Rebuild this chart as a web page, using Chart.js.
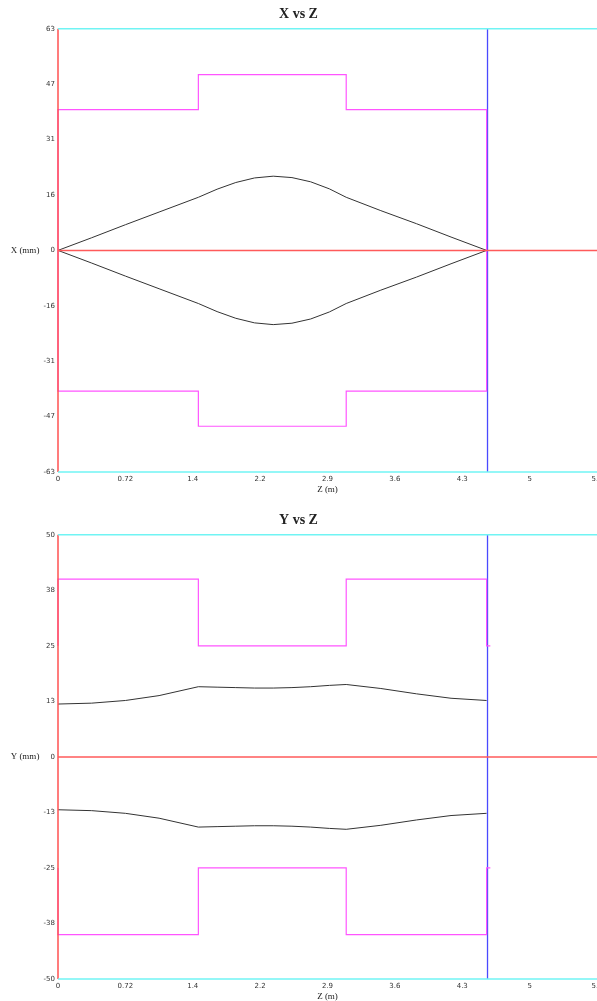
<!DOCTYPE html>
<html>
<head>
<meta charset="utf-8">
<script src="https://cdn.jsdelivr.net/npm/chart.js@4.4.0/dist/chart.umd.min.js"></script>
<style>
  html, body { margin: 0; padding: 0; background: #fff; overflow: hidden; width: 597px; height: 1001px; }
  .box { position: absolute; left: 0; width: 620px; }
  #box1 { top: 0; height: 500px; }
  #box2 { top: 506px; height: 501px; }
</style>
</head>
<body>
<div class="box" id="box1"><canvas id="xChart" width="620" height="500"></canvas></div>
<div class="box" id="box2"><canvas id="yChart" width="620" height="501"></canvas></div>
<script>
// z axis (m)
const zTicks = [0, 0.72, 1.44, 2.16, 2.88, 3.6, 4.32, 5.04, 5.76];
const zTickLabels = ['0', '0.72', '1.4', '2.2', '2.9', '3.6', '4.3', '5', '5.8'];

// transverse axes (mm)
const xTicks = [-63, -47.25, -31.5, -15.75, 0, 15.75, 31.5, 47.25, 63];
const xTickLabels = ['-63', '-47', '-31', '-16', '0', '16', '31', '47', '63'];
const yTicks = [-50, -37.5, -25, -12.5, 0, 12.5, 25, 37.5, 50];
const yTickLabels = ['-50', '-38', '-25', '-13', '0', '13', '25', '38', '50'];

// beam envelope
const envZ = [0, 0.36, 0.72, 1.08, 1.5, 1.7, 1.9, 2.1, 2.3, 2.5, 2.7, 2.9, 3.08, 3.45, 3.83, 4.2, 4.58];
const xEnvUpper = [0, 3.6, 7.3, 10.9, 15.1, 17.4, 19.3, 20.6, 21.1, 20.7, 19.5, 17.5, 15.1, 11.3, 7.6, 3.8, 0];
const xEnvLower = [0, -3.6, -7.3, -10.9, -15.1, -17.4, -19.3, -20.6, -21.1, -20.7, -19.5, -17.5, -15.1, -11.3, -7.6, -3.8, 0];
const yEnvUpper = [11.9, 12.1, 12.7, 13.8, 15.8, 15.7, 15.6, 15.5, 15.5, 15.6, 15.8, 16.1, 16.3, 15.4, 14.2, 13.2, 12.7];
const yEnvLower = [-11.9, -12.1, -12.7, -13.8, -15.8, -15.7, -15.6, -15.5, -15.5, -15.6, -15.8, -16.1, -16.3, -15.4, -14.2, -13.2, -12.7];

// apertures
const xApZ = [0, 0, 1.5, 1.5, 3.08, 3.08, 4.58, 4.58];
const xApUpper = [0, 40, 40, 50, 50, 40, 40, 0];
const xApLower = [0, -40, -40, -50, -50, -40, -40, 0];
const yApZ = [0, 0, 1.5, 1.5, 3.08, 3.08, 4.58, 4.58, 4.62];
const yApUpper = [25, 40, 40, 25, 25, 40, 40, 25, 25];
const yApLower = [-25, -40, -40, -25, -25, -40, -40, -25, -25];

const exitZ = 4.59;
const zMax = 5.76;

function line(zs, vs, color, width) {
    return {
        data: zs.map((z, i) => ({ x: z, y: vs[i] })),
        borderColor: color,
        borderWidth: width || 1,
        showLine: true,
        pointRadius: 0,
        tension: 0,
        clip: 3
    };
}

const sideTitle = {
    id: 'sideTitle',
    afterDraw(chart, args, opts) {
        const ctx = chart.ctx;
        ctx.save();
        ctx.font = '9px "Liberation Serif"';
        ctx.fillStyle = '#222';
        ctx.textAlign = 'center';
        ctx.textBaseline = 'middle';
        ctx.fillText(opts.text, 25, chart.scales.y.getPixelForValue(0));
        ctx.restore();
    }
};

function makeChart(id, title, sideText, lim, tickVals, tickLabels, apUpper, apLower, apZ, envUpper, envLower) {
    const datasets = [
        line([0, zMax], [lim, lim], '#70f4f4', 1.5),
        line([0, zMax], [-lim, -lim], '#70f4f4', 1.5),
        line([0, zMax], [0, 0], '#ff5a5a', 1.5),
        line([0, 0], [-lim, lim], '#ff5050', 1.5),
        line(apZ, apUpper, '#ff55ff', 1.2),
        line(apZ, apLower, '#ff55ff', 1.2),
        line(envZ, envUpper, '#333333', 1),
        line(envZ, envLower, '#333333', 1),
        line([exitZ, exitZ], [-lim, lim], '#4a4aff', 1.3)
    ];

    return new Chart(document.getElementById(id), {
        type: 'scatter',
        data: { datasets: datasets },
        plugins: [sideTitle],
        options: {
            responsive: false,
            animation: false,
            layout: { padding: { left: 0, right: 23, top: 0, bottom: 0 } },
            plugins: {
                legend: { display: false },
                tooltip: { enabled: false },
                title: {
                    display: true,
                    text: title,
                    color: '#222',
                    font: { family: '"Liberation Serif"', size: 14, weight: 'bold' },
                    padding: { top: 6, bottom: 6 }
                },
                sideTitle: { text: sideText }
            },
            scales: {
                x: {
                    type: 'linear',
                    min: 0,
                    max: zMax,
                    grid: { display: false, drawTicks: false },
                    border: { display: false },
                    afterBuildTicks: (s) => { s.ticks = zTicks.map(v => ({ value: v })); },
                    afterFit: (s) => { s.height = 28; },
                    ticks: {
                        autoSkip: false,
                        maxRotation: 0,
                        padding: 3,
                        color: '#333',
                        font: { family: '"DejaVu Sans"', size: 7 },
                        callback: (v, i) => zTickLabels[i]
                    },
                    title: {
                        display: true,
                        text: 'Z (m)',
                        color: '#222',
                        font: { family: '"Liberation Serif"', size: 9 },
                        padding: { top: 0, bottom: 5 }
                    }
                },
                y: {
                    type: 'linear',
                    min: -lim,
                    max: lim,
                    grid: { display: false, drawTicks: false },
                    border: { display: false },
                    afterBuildTicks: (s) => { s.ticks = tickVals.map(v => ({ value: v })); },
                    afterFit: (s) => { s.width = 58; },
                    ticks: {
                        autoSkip: false,
                        padding: 3,
                        color: '#333',
                        font: { family: '"DejaVu Sans"', size: 7 },
                        callback: (v, i) => tickLabels[i]
                    }
                }
            }
        }
    });
}

makeChart('xChart', 'X vs Z', 'X (mm)', 63, xTicks, xTickLabels, xApUpper, xApLower, xApZ, xEnvUpper, xEnvLower);
makeChart('yChart', 'Y vs Z', 'Y (mm)', 50, yTicks, yTickLabels, yApUpper, yApLower, yApZ, yEnvUpper, yEnvLower);
</script>
</body>
</html>
